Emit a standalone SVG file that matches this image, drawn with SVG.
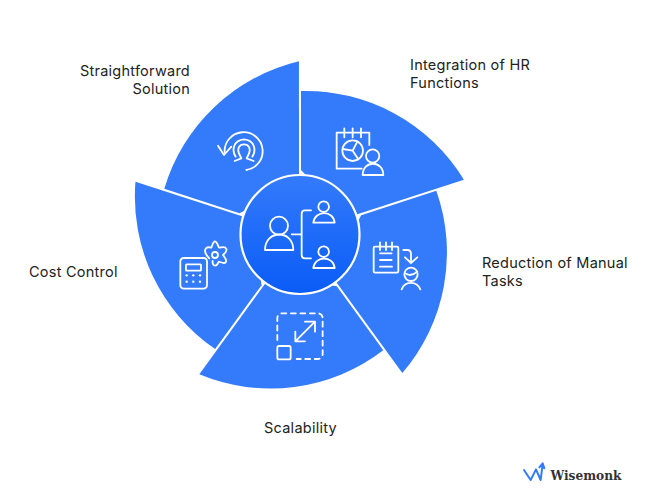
<svg xmlns="http://www.w3.org/2000/svg" width="660" height="501" viewBox="0 0 660 501">
<style>
.seg{fill:#347bfb}
.ic{fill:none;stroke:#fff;stroke-width:1.8;stroke-linecap:round;stroke-linejoin:round}
.ic *{vector-effect:non-scaling-stroke}
.dot{fill:#fff;stroke:none}
.lb{font-family:"Inter","Liberation Sans",sans-serif;font-size:14.5px;letter-spacing:.25px;fill:#222}
</style>
<defs>
<linearGradient id="hub" x1="0" y1="0" x2="0" y2="1"><stop offset="0" stop-color="#347bfb"/><stop offset="1" stop-color="#0a5cf7"/></linearGradient>
<path id="sector" d="M301 170L301 91A185 185 0 0 1 463.9 179.65L347.25 217.6Z"/>
</defs>
<rect width="660" height="501" fill="#fff"/>
<g id="connectors"></g>
<g id="node-integration">
<use href="#sector" class="seg"/>
<g class="ic" transform="translate(300 80) scale(.3333)">
<path d="M185 266H110V158H208V195M133 145V172M158 145V172M183 145V172"/>
<circle cx="158" cy="212" r="31"/>
<path d="M128 207L158 212L172 185M158 212L175 238"/>
<circle cx="218" cy="228" r="20"/>
<path d="M188 285C188 240 250 240 250 285Z"/>
</g>
<text class="lb" x="410" y="70">Integration of HR</text>
<text class="lb" x="410" y="88">Functions</text>
</g>
<g id="node-reduction">
<use href="#sector" class="seg" transform="rotate(72 300 234)"/>
<g class="ic" transform="translate(330 190) scale(.3333)">
<rect x="131" y="170" width="74" height="78" rx="4"/>
<path d="M150 157V180M168 157V180M186 157V180M150 190H185M150 210H185M150 230H186"/>
<path d="M220 180H232Q243 180 243 192V218M225 202L243 219L262 202"/>
<circle cx="243" cy="253" r="20"/>
<path d="M225 250Q243 262 262 245M215 298C225 272 260 272 271 298"/>
</g>
<text class="lb" x="482" y="268">Reduction of Manual</text>
<text class="lb" x="482" y="286">Tasks</text>
</g>
<g id="node-scalability">
<use href="#sector" class="seg" transform="rotate(144 300 234)"/>
<g class="ic" transform="translate(190 280) scale(.3333)">
<path stroke-dasharray="5 4.5" d="M262 180V114A14 14 0 0 1 276 100H384A14 14 0 0 1 398 114V223A14 14 0 0 1 384 237H320"/>
<rect x="262" y="198" width="40" height="40" rx="5"/>
<path d="M316 184L375 125M345 125H375V155M316 155V184H345"/>
</g>
<text class="lb" x="264" y="433">Scalability</text>
</g>
<g id="node-cost">
<use href="#sector" class="seg" transform="rotate(216 300 234)"/>
<g class="ic" transform="translate(130 175) scale(.3333)">
<rect x="151" y="249" width="80" height="92" rx="10"/>
<rect x="168" y="268" width="45" height="19" rx="2"/>
<g class="dot"><circle cx="170" cy="301" r="3.5"/><circle cx="190" cy="301" r="3.5"/><circle cx="210" cy="301" r="3.5"/><circle cx="170" cy="320" r="3.5"/><circle cx="190" cy="320" r="3.5"/><circle cx="210" cy="320" r="3.5"/></g>
</g>
<g class="ic" transform="translate(175 235) scale(.3333)">
<circle cx="120" cy="60" r="9"/>
<path d="M103 70C92 60 85 45 95 38C100 35 105 38 109 38C112 30 114 20 120 19C126 20 129 32 132 38C140 38 150 32 154 42C157 50 148 56 144 60C148 66 157 74 152 82C146 88 136 80 131 80C129 85 127 92 121 92C114 92 112 84 113 78"/>
</g>
<text class="lb" x="29" y="277">Cost Control</text>
</g>
<g id="node-straightforward">
<use href="#sector" class="seg" transform="rotate(288 300 234)"/>
<g class="ic" transform="translate(213 125) scale(.3333)">
<path d="M100 135A57 57 0 1 0 35 82"/>
<path d="M15 62L33 90L55 65"/>
<path d="M68 95C55 75 62 45 93 43C124 45 131 75 118 95"/>
<path d="M65 108L85 100L80 90C70 70 80 58 93 58C106 58 116 70 106 90L101 100L122 108"/>
</g>
<text class="lb" x="190" y="76" text-anchor="end">Straightforward</text>
<text class="lb" x="190" y="94" text-anchor="end">Solution</text>
</g>
<g id="node-hub">
<circle cx="300" cy="234.5" r="59.5" fill="url(#hub)" stroke="#fff" stroke-width="2.2"/>
<g class="ic" transform="translate(235 170) scale(.3333)">
<circle cx="132" cy="167" r="27"/>
<path d="M90 240C90 178 175 178 175 240Z"/>
<path d="M170 193H200M228 121H210Q200 121 200 131V255Q200 265 210 265H228"/>
<circle cx="266" cy="110" r="16"/>
<path d="M235 158C240 120 295 120 299 158Z"/>
<circle cx="266" cy="245" r="16"/>
<path d="M235 294C240 256 295 256 299 294Z"/>
</g>
</g>
<g id="logo">
<path transform="translate(510 450) scale(.3333)" d="M42 60L62 90L78 58L92 90L98 42M88 52L98 40L103 55" fill="none" stroke="#347bfb" stroke-width="6" stroke-linejoin="round" stroke-linecap="round"/>
<text x="550.5" y="480" font-family="DejaVu Serif" font-weight="700" font-size="12.2" fill="#333">Wisemonk</text>
</g>
</svg>
